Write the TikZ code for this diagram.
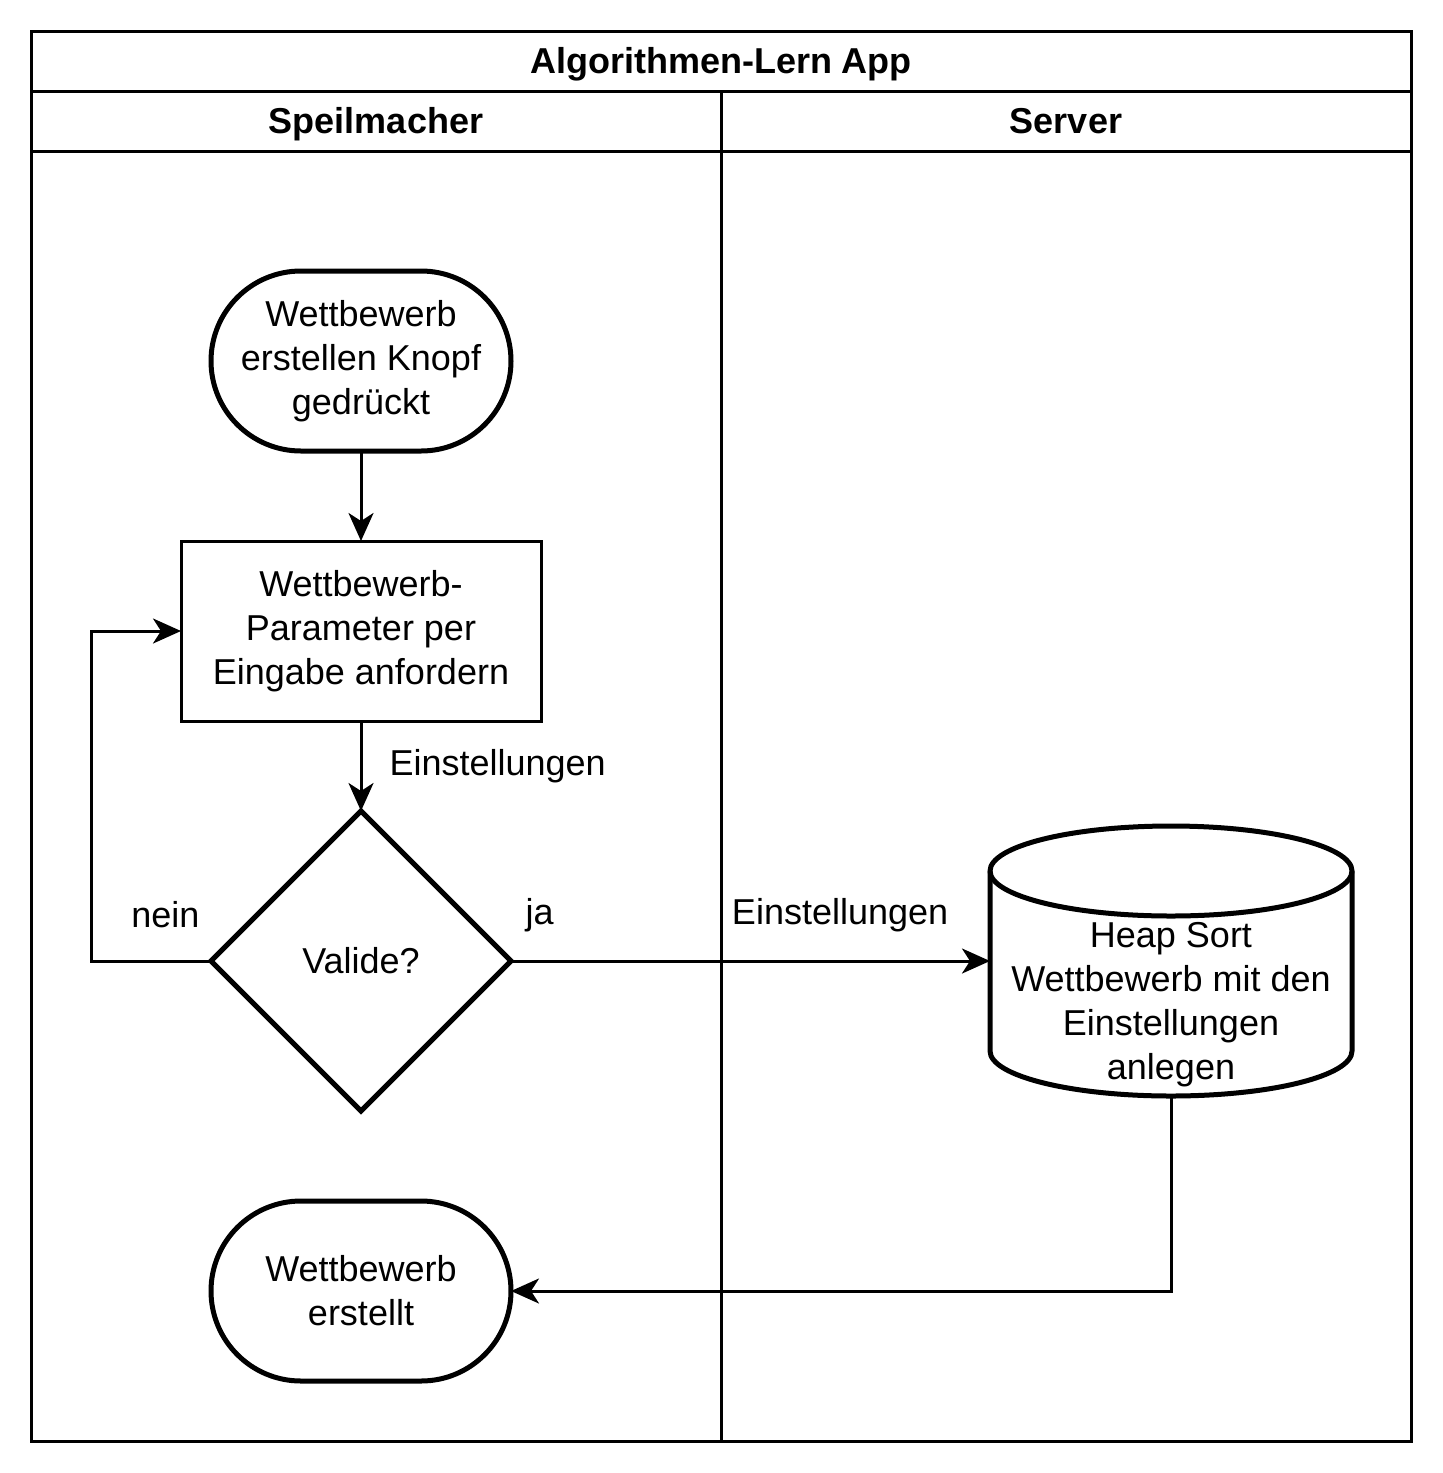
\documentclass[tikz,border=0pt]{standalone}
\usepackage{fontspec}
\setmainfont{Liberation Sans}
\usetikzlibrary{shapes.geometric,arrows.meta}
\begin{document}
\begin{tikzpicture}[x=0.5pt,y=-0.5pt,
  txt/.style={font=\fontsize{18}{22}\selectfont,align=center},
  lbl/.style={font=\fontsize{18}{22}\selectfont,inner sep=0pt},
  head/.style={font=\fontsize{18}{22}\selectfont\bfseries,anchor=base,inner sep=0pt},
  terminal/.style={txt,draw,line width=2.5pt,rounded corners=45pt,minimum width=150pt,minimum height=90pt,inner sep=0pt,outer sep=0pt},
  process/.style={txt,draw,line width=1.5pt,minimum width=180pt,minimum height=90pt,inner sep=0pt,outer sep=0pt},
  decision/.style={txt,draw,diamond,line width=2.5pt,minimum width=150pt,minimum height=150pt,inner sep=0pt,outer sep=0pt},
  conn/.style={line width=1.5pt,-{Stealth[length=14pt,width=12.5pt,inset=4pt]}}]
\useasboundingbox (0,0) rectangle (1443,1473);
% Rahmen und Bahnen
\draw[line width=1.5pt] (31,31) rectangle (1411,1441);
\draw[line width=1.5pt] (31,91) -- (1411,91);
\draw[line width=1.5pt] (31,151) -- (1411,151);
\draw[line width=1.5pt] (721,91) -- (721,1441);
% Kopfzeilen
\node[head] (title) at (721,73) {Algorithmen-Lern App};
\node[head] (lane1) at (376,133) {Speilmacher};
\node[head] (lane2) at (1066,133) {Server};
% Knoten
\node[terminal] (start) at (361,361) {Wettbewerb\\erstellen Knopf\\gedrückt};
\node[process] (proc) at (361,631) {Wettbewerb-\\Parameter per\\Eingabe anfordern};
\node[decision] (valid) at (361,961) {Valide?};
\node[terminal] (done) at (361,1291) {Wettbewerb\\erstellt};
% Datenbank
\node[minimum width=181pt,minimum height=136pt,inner sep=0pt,outer sep=0pt] (cyl) at (1171,961) {};
\draw[line width=2.5pt] (990,871) -- (990,1051)
  arc[start angle=180,end angle=0,x radius=181,y radius=45] -- (1352,871)
  arc[start angle=0,end angle=-180,x radius=181,y radius=45] -- cycle;
\draw[line width=2.5pt] (990,871) arc[start angle=180,end angle=0,x radius=181,y radius=45];
\node[txt] (cyltxt) at (1171,1005) {Heap Sort\\Wettbewerb mit den\\Einstellungen\\anlegen};
% Pfeile
\draw[conn] (start) -- (proc);
\draw[conn] (proc) -- node[lbl,midway,right=13.5pt] {Einstellungen} (valid);
\draw[conn] (valid.west) -- node[lbl,pos=0.38,yshift=23pt] {nein} ++(-120,0) |- (proc.west);
\draw[conn] (valid.east) -- node[lbl,pos=0.06,yshift=23pt] {ja}
  node[lbl,pos=0.687,yshift=23pt] {Einstellungen} (cyl.west);
\draw[conn] (cyl.south) |- (done.east);
\end{tikzpicture}
\end{document}
